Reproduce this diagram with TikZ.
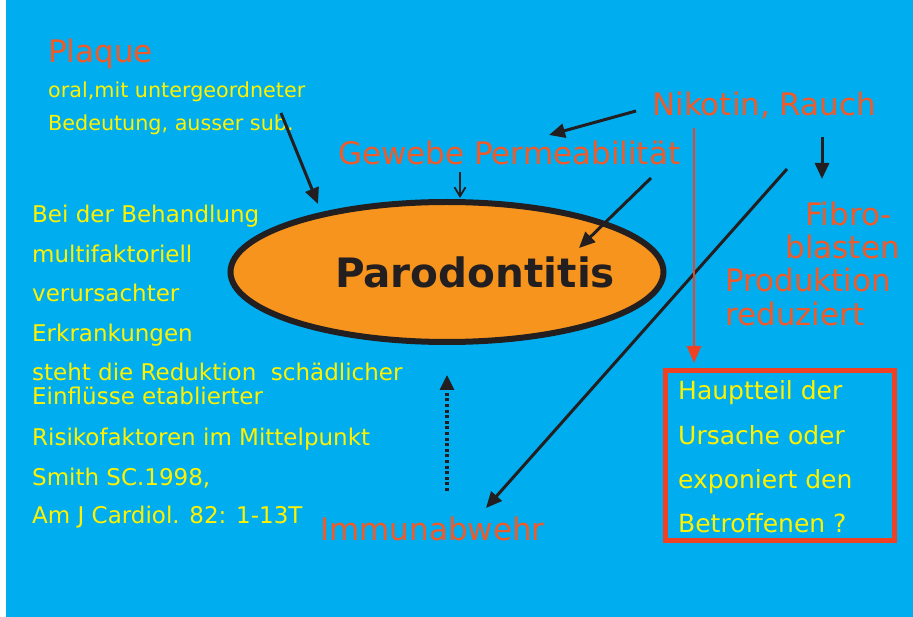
\documentclass[tikz,border=0pt]{standalone}
\usepackage{fontspec}
\setmainfont{DejaVu Sans}
\usetikzlibrary{arrows.meta,shapes.geometric}
\definecolor{bg}{HTML}{00AEEF}
\definecolor{ylw}{HTML}{FFF200}
\definecolor{rd}{HTML}{F15A29}
\definecolor{bx}{HTML}{EF4123}
\definecolor{org}{HTML}{F7941D}
\definecolor{blk}{HTML}{231F20}
\begin{document}
\begin{tikzpicture}[x=1pt,y=-1pt,
  ytxt/.style={text=ylw,font=\fontsize{23}{26}\selectfont,anchor=base west,inner sep=0pt},
  ysmall/.style={text=ylw,font=\fontsize{20.7}{24}\selectfont,anchor=base west,inner sep=0pt},
  rtxt/.style={text=rd,font=\fontsize{31}{34}\selectfont,anchor=base west,inner sep=0pt},
  btxt/.style={text=ylw,font=\fontsize{25}{28}\selectfont,anchor=base west,inner sep=0pt},
  arr/.style={draw=blk,line width=3pt,-{Triangle[length=16pt,width=14pt]}},
  thinarr/.style={draw=blk,line width=1.8pt,-{Straight Barb[length=9pt,width=11pt,line width=1.8pt]}},
  redarr/.style={draw=bx,line width=2.4pt,-{Triangle[length=17pt,width=14pt]}},
  dotarr/.style={draw=blk,line width=3.2pt,dash pattern=on 3pt off 2.6pt,-{Triangle[length=15pt,width=14pt]}},
]
\useasboundingbox (0,0) rectangle (913,617);
\fill[white] (0,0) rectangle (913,617);
\fill[bg] (6,0) rectangle (913,617);

% ellipse
\node[ellipse,draw=blk,fill=org,line width=6pt,minimum width=433pt,minimum height=140pt,inner sep=0pt] (par) at (447,272) {};
\node[anchor=base,inner sep=0pt,font=\fontsize{40.5}{44}\selectfont\bfseries,text=blk] (partxt) at (475,288) {Parodontitis};

% upper left
\node[rtxt] (plaque) at (48,63) {Plaque};
\node[ysmall] (oral) at (48,98) {oral,mit untergeordneter};
\node[ysmall] (bed) at (48,131) {Bedeutung, ausser sub.};

% left block
\node[ytxt] (l1) at (32,223) {Bei der Behandlung};
\node[ytxt] (l2) at (32,263) {multifaktoriell};
\node[ytxt] (l3) at (32,302) {verursachter};
\node[ytxt] (l4) at (32,342) {Erkrankungen};
\node[ytxt] (l5) at (32,381) {steht die Reduktion\ \ schädlicher};
\node[ytxt] (l6) at (32,405) {Einflüsse etablierter};
\node[ytxt] (l7) at (32,445) {Risikofaktoren im Mittelpunkt};
\node[ytxt] (l8) at (32,485) {Smith SC.1998,};
\node[ytxt] (l9) at (32,523) {Am J Cardiol. 82: 1-13T};

% red labels
\node[rtxt] (gew) at (338,165) {Gewebe Permeabilität};
\node[rtxt] (nik) at (652,116) {Nikotin, Rauch};
\node[rtxt,anchor=base east] (fib1) at (892,226) {Fibro-};
\node[rtxt,anchor=base east] (fib2) at (900,259) {blasten};
\node[rtxt] (fib3) at (725,292) {Produktion};
\node[rtxt] (fib4) at (725,326) {reduziert};
\node[rtxt] (imm) at (320,540) {Immunabwehr};

% box
\node[draw=bx,line width=5pt,minimum width=229pt,minimum height=170pt,inner sep=0pt,anchor=center] (box) at (780,455.5) {};
\node[btxt] (b1) at (678,400) {Hauptteil der};
\node[btxt] (b2) at (678,444) {Ursache oder};
\node[btxt] (b3) at (678,488) {exponiert den};
\node[btxt] (b4) at (678,532) {Betroffenen ?};

% connector end points
\coordinate (pA) at (281,113);
\coordinate (pB) at (318,204);
\coordinate (gA) at (460,172);
\coordinate (gB) at (460,198);
\coordinate (nA) at (636,111);
\coordinate (nB) at (549,135);
\coordinate (eA) at (651,178);
\coordinate (eB) at (579,248);
\coordinate (fA) at (822,137);
\coordinate (fB) at (822,179);
\coordinate (iA) at (787,169);
\coordinate (iB) at (486,508);
\coordinate (rA) at (694,128);
\coordinate (rB) at (694,363);
\coordinate (dA) at (447,491);
\coordinate (dB) at (447,375);

\draw[arr] (pA) -- (pB);
\draw[thinarr] (gA) -- (gB);
\draw[arr] (nA) -- (nB);
\draw[arr] (eA) -- (eB);
\draw[arr] (fA) -- (fB);
\draw[arr] (iA) -- (iB);
\draw[redarr] (rA) -- (rB);
\draw[dotarr] (dA) -- (dB);
\end{tikzpicture}
\end{document}
